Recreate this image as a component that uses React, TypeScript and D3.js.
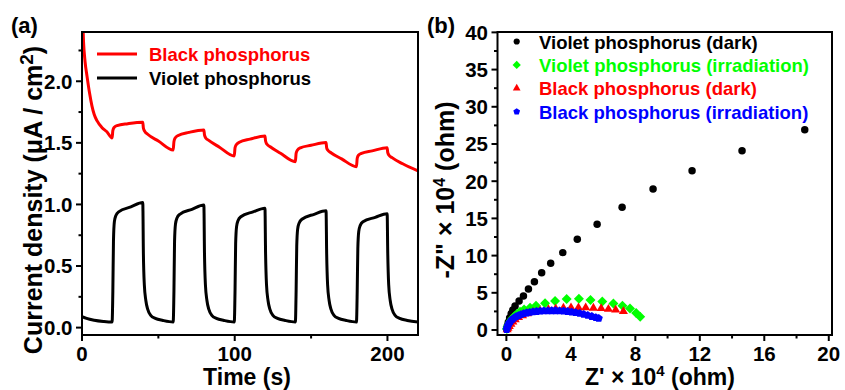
import React from "react";
import * as d3 from "d3";

// ---- panel (a): photocurrent vs time  [t (s), J (uA/cm2)]
const blackPhosphorusCurrent: [number, number][] = [
  [0.2, 2.6], [1, 2.32], [2, 2.16], [3.3, 2.04], [5, 1.9], [6.5, 1.8], [8, 1.73], [9.8, 1.68], [13, 1.625], [16.3, 1.59], [19.7, 1.54],
  [20.2, 1.6], [21, 1.625], [23, 1.64], [30, 1.655], [39.8, 1.667],
  [40.2, 1.62], [41, 1.595], [43, 1.57], [50, 1.515], [59.7, 1.442],
  [60.2, 1.51], [61, 1.54], [63, 1.56], [70, 1.585], [79.8, 1.605],
  [80.2, 1.565], [81, 1.54], [83, 1.52], [90, 1.465], [99.7, 1.394],
  [100.2, 1.46], [101, 1.485], [103, 1.505], [110, 1.53], [119.8, 1.556],
  [120.2, 1.515], [121, 1.49], [123, 1.47], [130, 1.415], [139.7, 1.347],
  [140.2, 1.415], [141, 1.44], [143, 1.46], [150, 1.48], [159.8, 1.502],
  [160.2, 1.46], [161, 1.44], [163, 1.42], [170, 1.37], [179.7, 1.307],
  [180.2, 1.375], [181, 1.4], [183, 1.415], [190, 1.435], [199.8, 1.461],
  [200.2, 1.42], [201, 1.4], [203, 1.38], [210, 1.33], [220, 1.272],
];

const violetPhosphorusCurrent: [number, number][] = [
  [0, 0.09], [3, 0.075], [8, 0.06], [14, 0.05], [19.7, 0.045],
  [20.2, 0.3], [20.6, 0.7], [21.2, 0.86], [22.2, 0.91], [24, 0.94], [32, 0.98], [39.8, 1.015],
  [40.2, 0.6], [40.8, 0.35], [41.8, 0.22], [43, 0.15], [45, 0.1], [48, 0.075], [53, 0.058], [59.7, 0.045],
  [60.2, 0.3], [60.6, 0.7], [61.2, 0.84], [62.2, 0.89], [64, 0.92], [72, 0.96], [79.8, 0.995],
  [80.2, 0.6], [80.8, 0.35], [81.8, 0.22], [83, 0.15], [85, 0.1], [88, 0.075], [93, 0.058], [99.7, 0.045],
  [100.2, 0.3], [100.6, 0.68], [101.2, 0.82], [102.2, 0.87], [104, 0.9], [112, 0.94], [119.8, 0.97],
  [120.2, 0.6], [120.8, 0.35], [121.8, 0.22], [123, 0.15], [125, 0.1], [128, 0.075], [133, 0.058], [139.7, 0.045],
  [140.2, 0.3], [140.6, 0.66], [141.2, 0.8], [142.2, 0.85], [144, 0.88], [152, 0.92], [159.8, 0.948],
  [160.2, 0.6], [160.8, 0.35], [161.8, 0.22], [163, 0.15], [165, 0.1], [168, 0.075], [173, 0.058], [179.7, 0.045],
  [180.2, 0.3], [180.6, 0.64], [181.2, 0.78], [182.2, 0.83], [184, 0.86], [192, 0.895], [199.8, 0.925],
  [200.2, 0.6], [200.8, 0.35], [201.8, 0.22], [203, 0.15], [205, 0.1], [208, 0.075], [213, 0.058], [220, 0.045],
];

const timeTicks = [0, 100, 200];
const timeMinorTicks = [50, 150];
const currentTicks = [0, 0.5, 1.0, 1.5, 2.0];
const currentMinorTicks = [0.25, 0.75, 1.25, 1.75, 2.25];

// ---- panel (b): Nyquist plots  [Z' x1e4, -Z'' x1e4]
const violetDark: [number, number][] = [
  [0.02, 0.15], [0.06, 0.55], [0.12, 1.05], [0.2, 1.6], [0.3, 2.2], [0.4, 2.7], [0.54, 3.23], [0.79, 3.9],
  [1.06, 4.57], [1.37, 5.5], [1.74, 6.5], [2.19, 7.7], [2.75, 8.96], [3.5, 10.4], [4.4, 12.2],
  [5.63, 14.2], [7.18, 16.5], [9.1, 18.95], [11.52, 21.4], [14.62, 24.1], [18.51, 26.9],
];
const violetIrradiation: [number, number][] = [
  [0.03, 0.15], [0.07, 0.4], [0.12, 0.65], [0.19, 0.95], [0.27, 1.25], [0.37, 1.55], [0.5, 1.85], [0.65, 2.15],
  [0.85, 2.45], [1.1, 2.75], [1.47, 3.0], [1.84, 3.27], [2.4, 3.6], [3.02, 3.9], [3.74, 4.17], [4.5, 4.2],
  [5.22, 4.05], [5.95, 3.82], [6.64, 3.55], [7.2, 3.25], [7.67, 2.9], [8.05, 2.3], [8.3, 1.79],
];
const blackDark: [number, number][] = [
  [0.05, 0.05], [0.1, 0.25], [0.18, 0.5], [0.28, 0.8], [0.4, 1.1], [0.55, 1.4], [0.75, 1.7], [1.0, 1.95],
  [1.3, 2.2], [1.65, 2.4], [2.09, 2.6], [2.61, 2.75], [3.06, 2.85], [3.54, 2.95], [4.01, 3.0], [4.47, 3.0],
  [4.92, 3.0], [5.4, 2.95], [5.88, 2.9], [6.33, 2.8], [6.78, 2.7], [7.26, 2.5],
];
const blackIrradiation: [number, number][] = [
  [0.02, 0.05], [0.05, 0.3], [0.1, 0.6], [0.17, 0.9], [0.25, 1.15], [0.35, 1.4], [0.47, 1.6], [0.6, 1.8],
  [0.75, 1.95], [0.9, 2.08], [1.07, 2.2], [1.25, 2.3], [1.45, 2.38], [1.65, 2.45], [1.87, 2.5], [2.1, 2.54],
  [2.33, 2.57], [2.57, 2.59], [2.81, 2.6], [3.05, 2.6], [3.3, 2.58], [3.55, 2.55], [3.8, 2.5], [4.05, 2.43],
  [4.3, 2.35], [4.55, 2.25], [4.8, 2.12], [5.05, 1.98], [5.3, 1.83], [5.55, 1.68], [5.73, 1.57],
];

const zRealTicks = [0, 4, 8, 12, 16, 20];
const zRealMinorTicks = [2, 6, 10, 14, 18];
const zImagTicks = [0, 5, 10, 15, 20, 25, 30, 35, 40];
const zImagMinorTicks = [2.5, 7.5, 12.5, 17.5, 22.5, 27.5, 32.5, 37.5];

const FONT = "'Liberation Sans', Arial, Helvetica, sans-serif";

// custom marker shapes
const diamond = {
  draw(ctx: any, size: number) {
    const r = Math.sqrt(size / 2);
    ctx.moveTo(0, -r);
    ctx.lineTo(r, 0);
    ctx.lineTo(0, r);
    ctx.lineTo(-r, 0);
    ctx.closePath();
  },
};
const pentagon = {
  draw(ctx: any, size: number) {
    const r = Math.sqrt(size / 2.378);
    for (let i = 0; i < 5; i++) {
      const a = -Math.PI / 2 + (i * 2 * Math.PI) / 5;
      if (i === 0) ctx.moveTo(r * Math.cos(a), r * Math.sin(a));
      else ctx.lineTo(r * Math.cos(a), r * Math.sin(a));
    }
    ctx.closePath();
  },
};

const nyquistSeries = [
  { name: "Violet phosphorus (dark)", color: "#000000", data: violetDark, type: d3.symbolCircle, size: 44, legendSize: 30 },
  { name: "Violet phosphorus (irradiation)", color: "#00ff00", data: violetIrradiation, type: diamond, size: 50, legendSize: 34 },
  { name: "Black phosphorus (dark)", color: "#ff0000", data: blackDark, type: d3.symbolTriangle, size: 36, legendSize: 26 },
  { name: "Black phosphorus (irradiation)", color: "#0000ff", data: blackIrradiation, type: pentagon, size: 44, legendSize: 30 },
];

function Frame({ x, y, xMajor, xMinor, yMajor, yMinor, xFmt, yFmt }: any) {
  const [x0, x1] = x.range();
  const [y0, y1] = y.range();
  return (
    <g>
      <rect x={x0} y={y1} width={x1 - x0} height={y0 - y1} fill="none" stroke="#000" strokeWidth={2} />
      {xMajor.map((t: number) => (
        <g key={`xm${t}`}>
          <line x1={x(t)} x2={x(t)} y1={y0} y2={y0 + 6} stroke="#000" strokeWidth={2} />
          <text x={x(t)} y={y0 + 25.5} textAnchor="middle" fontSize={20.5} fontWeight="bold">
            {xFmt(t)}
          </text>
        </g>
      ))}
      {xMinor.map((t: number) => (
        <line key={`xn${t}`} x1={x(t)} x2={x(t)} y1={y0} y2={y0 + 3.5} stroke="#000" strokeWidth={2} />
      ))}
      {yMajor.map((t: number) => (
        <g key={`ym${t}`}>
          <line x1={x0 - 6} x2={x0} y1={y(t)} y2={y(t)} stroke="#000" strokeWidth={2} />
          <text x={x0 - 9.5} y={y(t)} dy="0.36em" textAnchor="end" fontSize={20.5} fontWeight="bold">
            {yFmt(t)}
          </text>
        </g>
      ))}
      {yMinor.map((t: number) => (
        <line key={`yn${t}`} x1={x0 - 3.5} x2={x0} y1={y(t)} y2={y(t)} stroke="#000" strokeWidth={2} />
      ))}
    </g>
  );
}

export default function App() {
  // panel (a)
  const xa = d3.scaleLinear().domain([0, 220]).range([82, 418]);
  const ya = d3.scaleLinear().domain([-0.06, 2.4]).range([335, 32]);
  const line = d3
    .line<[number, number]>()
    .x(d => xa(d[0]))
    .y(d => ya(d[1]))
    .curve(d3.curveMonotoneX);

  // panel (b)
  const xb = d3.scaleLinear().domain([-0.55, 20.2]).range([497.5, 832]);
  const yb = d3.scaleLinear().domain([-0.67, 40.05]).range([335, 32]);

  return (
    <svg
      width={845}
      height={390}
      style={{ position: "absolute", left: 0, top: 0, background: "#fff" }}
      fontFamily={FONT}
    >
      <defs>
        <clipPath id="clipA">
          <rect x={82} y={32} width={336} height={303} />
        </clipPath>
      </defs>

      {/* ---------- (a) ---------- */}
      <text x={11} y={33} fontSize={22} fontWeight="bold">(a)</text>
      <g clipPath="url(#clipA)">
        <path d={line(violetPhosphorusCurrent) || ""} fill="none" stroke="#000" strokeWidth={3} strokeLinejoin="round" />
        <path d={line(blackPhosphorusCurrent) || ""} fill="none" stroke="#ff0000" strokeWidth={3} strokeLinejoin="round" />
      </g>
      <Frame
        x={xa}
        y={ya}
        xMajor={timeTicks}
        xMinor={timeMinorTicks}
        yMajor={currentTicks}
        yMinor={currentMinorTicks}
        xFmt={(t: number) => String(t)}
        yFmt={d3.format(".1f")}
      />
      <g fontSize={18.5} fontWeight="bold">
        <line x1={97} x2={137} y1={54} y2={54} stroke="#ff0000" strokeWidth={3} />
        <text x={149} y={61} fill="#ff0000">Black phosphorus</text>
        <line x1={97} x2={137} y1={78} y2={78} stroke="#000" strokeWidth={3} />
        <text x={149} y={85} fill="#000">Violet phosphorus</text>
      </g>
      <text x={247} y={384.5} textAnchor="middle" fontSize={23} fontWeight="bold">Time (s)</text>
      <text transform="translate(42,200) rotate(-90)" textAnchor="middle" fontSize={25} fontWeight="bold">
        Current density (μA / cm<tspan dy={-9} fontSize={19}>2</tspan><tspan dy={9}>)</tspan>
      </text>

      {/* ---------- (b) ---------- */}
      <text x={427} y={33} fontSize={22} fontWeight="bold">(b)</text>
      {nyquistSeries.map(s => {
        const sym = d3.symbol().type(s.type as any).size(s.size)();
        return (
          <g key={s.name} fill={s.color}>
            {s.data.map((d, i) => (
              <path key={i} d={sym || ""} transform={`translate(${xb(d[0])},${yb(d[1])})`} />
            ))}
          </g>
        );
      })}
      <Frame
        x={xb}
        y={yb}
        xMajor={zRealTicks}
        xMinor={zRealMinorTicks}
        yMajor={zImagTicks}
        yMinor={zImagMinorTicks}
        xFmt={(t: number) => String(t)}
        yFmt={(t: number) => String(t)}
      />
      <g fontSize={18.5} fontWeight="bold">
        {nyquistSeries.map((s, i) => {
          const yy = 41.5 + i * 23.4;
          const sym = d3.symbol().type(s.type as any).size(s.legendSize)();
          return (
            <g key={s.name}>
              <path d={sym || ""} transform={`translate(516.7,${yy})`} fill={s.color} />
              <text x={539} y={yy + 7} fill={s.color}>{s.name}</text>
            </g>
          );
        })}
      </g>
      <text x={660} y={384.5} textAnchor="middle" fontSize={23} fontWeight="bold">
        Z' × 10<tspan dy={-9} fontSize={15}>4</tspan><tspan dy={9}> (ohm)</tspan>
      </text>
      <text transform="translate(454,190) rotate(-90)" textAnchor="middle" fontSize={25} fontWeight="bold">
        -Z" × 10<tspan dy={-9} fontSize={16}>4</tspan><tspan dy={9}> (ohm)</tspan>
      </text>
    </svg>
  );
}
